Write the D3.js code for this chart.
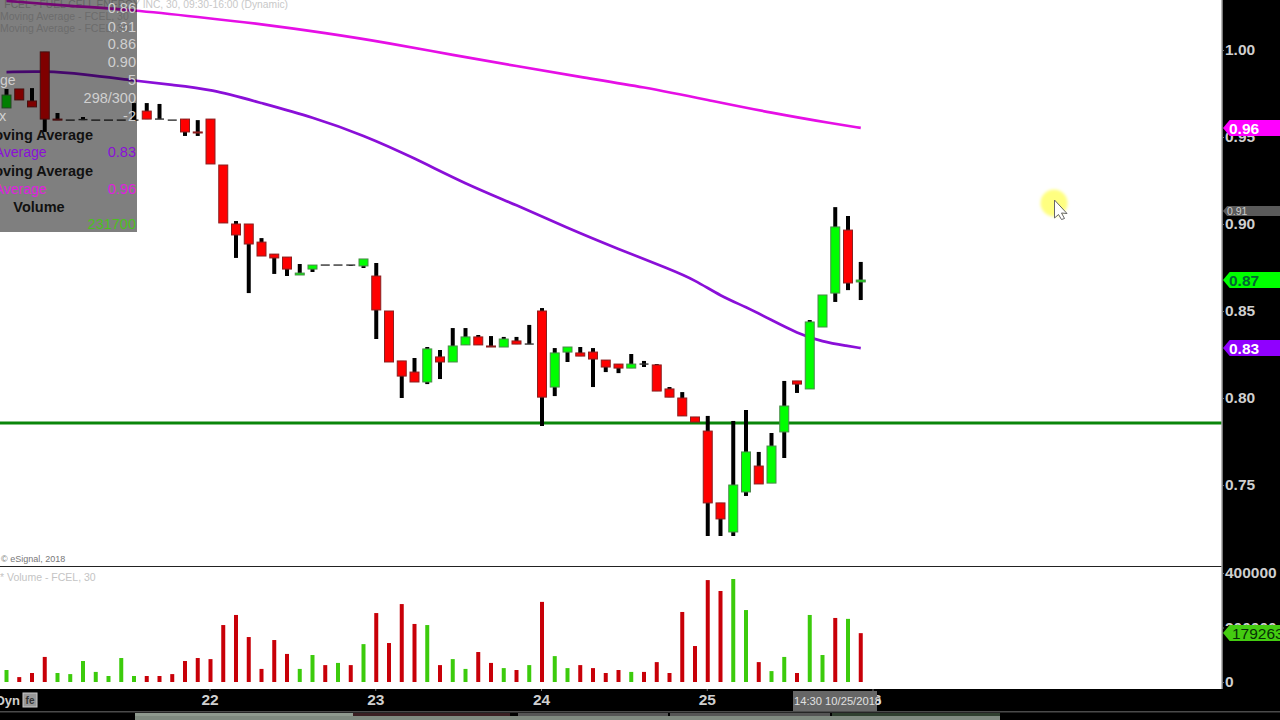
<!DOCTYPE html>
<html><head><meta charset="utf-8">
<script src="https://cdn.jsdelivr.net/npm/d3@7/dist/d3.min.js"></script>
<style>
html,body{margin:0;padding:0;background:#fff;overflow:hidden}
svg{display:block;font-family:"Liberation Sans",Arial,sans-serif}
</style></head><body>
<svg id="c" width="1280" height="720"></svg>
<script>
const open=[.9667,.9776,.9707,.9989,.9603,.9597,.9600,.9597,.9597,.9597,.9597,.9649,.9603,.9597,.9603,.9529,.9603,.9339,.9000,.9000,.8896,.8827,.8810,.8707,.8741,.8764,.8764,.8764,.8759,.8701,.8500,.8213,.8149,.8092,.8236,.8207,.8305,.8351,.8299,.8293,.8328,.8310,.8500,.8063,.8264,.8259,.8264,.8218,.8195,.8172,.8195,.8190,.8052,.8000,.7891,.7810,.7397,.7230,.7460,.7609,.7511,.7805,.8098,.8052,.8408,.8603,.8965,.8667];
const high=[.9776,.9776,.9781,.9989,.9638,.9597,.9615,.9597,.9597,.9597,.9695,.9695,.9690,.9597,.9603,.9597,.9603,.9339,.9017,.9000,.8919,.8827,.8810,.8770,.8764,.8764,.8764,.8764,.8799,.8776,.8500,.8213,.8230,.8293,.8276,.8402,.8402,.8362,.8356,.8351,.8351,.8420,.8517,.8287,.8293,.8293,.8287,.8218,.8195,.8253,.8213,.8195,.8063,.8034,.7891,.7897,.7397,.7868,.7931,.7690,.7799,.8098,.8098,.8448,.8592,.9097,.9046,.8782];
const low=[.9667,.9713,.9673,.9529,.9597,.9597,.9597,.9597,.9597,.9597,.9597,.9603,.9603,.9597,.9506,.9506,.9345,.9006,.8805,.8603,.8816,.8713,.8701,.8707,.8724,.8764,.8764,.8759,.8747,.8339,.8207,.8000,.8092,.8080,.8109,.8207,.8305,.8305,.8293,.8293,.8310,.8310,.7839,.8011,.8207,.8241,.8063,.8149,.8143,.8172,.8178,.8040,.8005,.7897,.7862,.7207,.7207,.7207,.7437,.7506,.7511,.7655,.8029,.8052,.8408,.8552,.8620,.8563];
const close=[.9741,.9713,.9673,.9603,.9597,.9597,.9600,.9597,.9597,.9597,.9597,.9603,.9603,.9597,.9529,.9523,.9345,.9006,.8937,.8885,.8816,.8805,.8741,.8718,.8764,.8764,.8764,.8764,.8799,.8506,.8207,.8126,.8092,.8282,.8207,.8299,.8351,.8305,.8293,.8339,.8310,.8310,.8005,.8259,.8293,.8241,.8224,.8178,.8172,.8195,.8195,.8040,.8005,.7897,.7862,.7397,.7305,.7500,.7690,.7506,.7724,.7954,.8080,.8437,.8592,.8983,.8661,.8678];
const volume=[44000,18000,33000,92000,33000,29000,77000,37000,22000,88000,22000,22000,22000,29000,77000,88000,84000,209000,246000,165000,48000,154000,103000,48000,99000,62000,70000,62000,139000,253000,143000,286000,213000,209000,62000,84000,48000,110000,70000,51000,44000,62000,294000,95000,51000,62000,51000,33000,44000,37000,37000,73000,33000,257000,132000,374000,334000,378000,264000,73000,40000,92000,33000,246000,99000,235000,231700,179263];
const volumeDir="grrrggggggg rrrrrrrrrrrrggrgrgrrrrgrggrrgrgrggrrrrgrrrrrrrggrgg rggrg".replace(/ /g,"");
const slowIdx=[0,5,10,15,20,25,30,35,40,45,50,55,60,65,67];
const slowMA=[1.0282,1.0253,1.0230,1.0190,1.0149,1.0098,1.0040,.9971,.9908,.9845,.9787,.9713,.9638,.9575,.9552];
const fastIdx=[0,3,6,10,13,16,20,24,28,32,36,40,44,48,52,54,56,58,60,62,64,66,67];
const fastMA=[.9873,.9879,.9862,.9824,.9799,.9776,.9695,.9615,.9511,.9379,.9230,.9109,.8977,.8856,.8741,.8678,.8586,.8523,.8448,.8373,.8322,.8299,.8287];
const supportLevel=.7856;
const priceTicks=[1.00,.95,.90,.85,.80,.75];
const volumeTicks=[0,200000,400000];
const dayIdx=[16,29,42,55,68];
const dayLabels=["22","23","24","25","26"];
const hoverPrice=.9075;
const RED="#ff0000",GREEN="#00ff00",MAGENTA="#e60fe6",PURPLE="#8a0fd8";

const svg=d3.select("#c");
const x=d3.scaleLinear().domain([0,68]).range([6.5,873.5]);
const y=d3.scaleLinear().domain([.75,1]).range([485,50]);
const yv=d3.scaleLinear().domain([0,400000]).range([682,573]);
const n=open.length,idx=d3.range(n);

svg.append("rect").attr("width",1280).attr("height",720).attr("fill","#fff");
svg.append("defs").append("filter").attr("id","blur").append("feGaussianBlur").attr("stdDeviation",1.5);
svg.select("defs").append("clipPath").attr("id","pc").append("rect").attr("width",1222).attr("height",566);

svg.append("text").attr("x",288).attr("y",8).attr("text-anchor","end").attr("font-size",10.3).attr("fill","#c8c8c8").text("FCEL - FUEL CELL ENERGY INC, 30, 09:30-16:00 (Dynamic)");
svg.append("text").attr("x",1).attr("y",562).attr("font-size",9).attr("fill","#777").text("© eSignal, 2018");
svg.append("text").attr("x",0).attr("y",581).attr("font-size",10.5).attr("fill","#c4c4c4").text("* Volume - FCEL, 30");

const main=svg.append("g").attr("clip-path","url(#pc)");
main.append("line").attr("x1",0).attr("x2",1222).attr("y1",y(supportLevel)).attr("y2",y(supportLevel)).attr("stroke","#0a860a").attr("stroke-width",3);

const line=d3.line().x(d=>x(d[0])).y(d=>y(d[1])).curve(d3.curveBasis);
main.append("path").attr("d",line(slowIdx.map((k,i)=>[k,slowMA[i]]))).attr("fill","none").attr("stroke",MAGENTA).attr("stroke-width",2.7);
main.append("path").attr("d",line(fastIdx.map((k,i)=>[k,fastMA[i]]))).attr("fill","none").attr("stroke",PURPLE).attr("stroke-width",2.7);

const bw=9;
const candles=main.selectAll("g.c").data(idx).join("g").attr("class","c");
candles.append("line").attr("x1",i=>x(i)).attr("x2",i=>x(i)).attr("y1",i=>y(high[i])).attr("y2",i=>y(low[i])).attr("stroke","#000").attr("stroke-width",4);
candles.filter(i=>open[i]!==close[i]).append("rect")
 .attr("x",i=>x(i)-bw/2).attr("width",bw)
 .attr("y",i=>y(Math.max(open[i],close[i])))
 .attr("height",i=>Math.abs(y(open[i])-y(close[i])))
 .attr("fill",i=>close[i]>open[i]?GREEN:RED)
 .attr("stroke",i=>close[i]>open[i]?"#4a8a4a":"#8a2020").attr("stroke-width",1);
candles.filter(i=>open[i]===close[i]).append("line")
 .attr("x1",i=>x(i)-bw/2).attr("x2",i=>x(i)+bw/2)
 .attr("y1",i=>y(open[i])).attr("y2",i=>y(open[i])).attr("stroke","#333").attr("stroke-width",1.4);

svg.append("line").attr("x1",0).attr("x2",1222).attr("y1",566.5).attr("y2",566.5).attr("stroke","#222");

svg.selectAll("rect.v").data(idx).join("rect").attr("class","v")
 .attr("x",i=>x(i)-2).attr("width",4)
 .attr("y",i=>yv(volume[i])).attr("height",i=>yv(0)-yv(volume[i]))
 .attr("fill",i=>volumeDir[i]==="g"?"#3ccb0c":"#c80008");

// legend overlay
svg.append("rect").attr("width",137).attr("height",232).attr("fill","rgba(0,0,0,.5)");
const ov=svg.append("g").attr("font-size",14.5);
[["0.86",13],["0.91",32],["0.86",49],["0.90",67],["5",85],["298/300",103],["-2",121]].forEach(d=>
 ov.append("text").attr("x",136).attr("y",d[1]).attr("text-anchor","end").attr("fill","#d0d0d0").text(d[0]));
[["Moving Average - FCEL, 30",20],["Moving Average - FCEL, 30",32]].forEach(d=>
 ov.append("text").attr("x",0).attr("y",d[1]).attr("font-size",10.5).attr("fill","#6c6c6c").text(d[0]));
ov.append("text").attr("x",0).attr("y",85).attr("font-size",14).attr("fill","#d0d0d0").text("ge");
ov.append("text").attr("x",-1).attr("y",121).attr("fill","#d0d0d0").text("x");
[140,176].forEach(b=>
 ov.append("text").attr("x",93).attr("y",b).attr("text-anchor","end").attr("font-weight","bold").attr("fill","#111").text("oving Average"));
ov.append("text").attr("x",46.5).attr("y",157).attr("font-size",14).attr("text-anchor","end").attr("fill",PURPLE).text("Average");
ov.append("text").attr("x",46.5).attr("y",194).attr("font-size",14).attr("text-anchor","end").attr("fill","#e020e0").text("Average");
ov.append("text").attr("x",136).attr("y",157).attr("text-anchor","end").attr("fill",PURPLE).text(d3.format(".2f")(fastMA[fastMA.length-1]));
ov.append("text").attr("x",136).attr("y",194).attr("text-anchor","end").attr("fill","#e020e0").text(d3.format(".2f")(slowMA[slowMA.length-1]));
ov.append("text").attr("x",39).attr("y",212).attr("text-anchor","middle").attr("font-weight","bold").attr("fill","#111").text("Volume");
ov.append("text").attr("x",136).attr("y",229).attr("text-anchor","end").attr("fill","#4cc020").text(d3.format("d")(volume[n-2]));

// black frames
svg.append("rect").attr("x",1222).attr("width",58).attr("height",720).attr("fill","#000");
svg.append("rect").attr("y",689).attr("width",1280).attr("height",31).attr("fill","#000");
svg.append("line").attr("x1",1222).attr("x2",1222).attr("y1",0).attr("y2",689).attr("stroke","#a0a0a0").attr("stroke-width",1.5);

const styleAxis=g=>{g.select(".domain").remove();
 g.selectAll("line").attr("stroke","#777");
 g.selectAll("text").attr("fill","#cfcfcf").attr("font-weight","bold").attr("font-family",'"Liberation Sans",Arial,sans-serif').attr("font-size",15.5);};
svg.append("g").attr("transform","translate(1222,0)")
 .call(d3.axisRight(y).tickValues(priceTicks).tickSize(2).tickPadding(1).tickFormat(d3.format(".2f"))).call(styleAxis);
svg.append("g").attr("transform","translate(1222,0)")
 .call(d3.axisRight(yv).tickValues(volumeTicks).tickSize(2).tickPadding(1).tickFormat(d3.format("d"))).call(styleAxis);
svg.append("g").attr("transform","translate(-1,689)")
 .call(d3.axisBottom(x).tickValues(dayIdx).tickSize(2).tickPadding(3).tickFormat((d,i)=>dayLabels[i])).call(styleAxis);

// scrollbar strip
svg.append("rect").attr("y",711).attr("width",1280).attr("height",1.5).attr("fill","#4a4a4a");
const strip=[[135,218,"#8f9a8f"],[353,157,"#3a1f22"],[518,150,"#555"],[670,160,"#555"],[832,168,"#2f3f2f"]];
svg.selectAll("rect.s").data(strip).join("rect").attr("class","s").attr("x",d=>d[0]).attr("y",713).attr("width",d=>d[1]).attr("height",3).attr("fill",d=>d[2]);
svg.append("rect").attr("x",135).attr("y",716).attr("width",865).attr("height",4).attr("fill","#7f8a80");

svg.append("text").attr("x",20).attr("y",705).attr("text-anchor","end").attr("fill","#cfcfcf").attr("font-weight","bold").attr("font-size",13).text("Dyn");
svg.append("rect").attr("x",23).attr("y",693).attr("width",14).attr("height",14).attr("fill","#999").attr("stroke","#ccc");
svg.append("text").attr("x",30).attr("y",704).attr("text-anchor","middle").attr("font-size",10).attr("font-weight","bold").attr("fill","#333").text("fe");

svg.append("rect").attr("x",793).attr("y",691).attr("width",84).attr("height",20).attr("fill","#666");
svg.append("text").attr("x",794).attr("y",705).attr("font-size",11.2).attr("fill","#e0e0e0").text("14:30 10/25/2018");

// price tags
const tags=[
 {v:slowMA[slowMA.length-1],t:"0.96",f:"#ff00ff",c:"#fff",h:16,s:15.5,w:"bold",yy:y},
 {v:hoverPrice,t:"0.91",f:"#5a5a5a",c:"#ccc",h:10,s:10.5,w:"normal",yy:y},
 {v:close[n-1],t:"0.87",f:"#00ff00",c:"#063",h:16,s:15.5,w:"bold",yy:y},
 {v:fastMA[fastMA.length-1],t:"0.83",f:"#9000ff",c:"#fff",h:16,s:15.5,w:"bold",yy:y},
 {v:volume[n-1],t:"179263",f:"#44cc11",c:"#063006",h:16,s:15.5,w:"normal",yy:yv}];
const tg=svg.selectAll("g.t").data(tags).join("g").attr("class","t").attr("transform",d=>`translate(1223,${Math.round(d.yy(d.v))})`);
tg.append("path").attr("d",d=>`M0,0L${d.h/2.4},${-d.h/2}H57V${d.h/2}H${d.h/2.4}Z`).attr("fill",d=>d.f);
tg.append("text").attr("x",d=>d.t.length>4?9:d.h<12?4:6).attr("y",d=>d.h<12?4:5.5).attr("font-size",d=>d.s).attr("font-weight",d=>d.w).attr("fill",d=>d.c).text(d=>d.t);

// cursor highlight
svg.append("circle").attr("cx",1054).attr("cy",203).attr("r",13.5).attr("fill","#ffff80").attr("filter","url(#blur)");
svg.append("path").attr("d","M1054.5,200L1067,213.5L1061.5,213L1064.5,218.5L1061.5,219.5L1058.5,214.5L1054.5,218Z").attr("fill","#fff").attr("stroke","#666").attr("stroke-width",1);
</script>
</body></html>
